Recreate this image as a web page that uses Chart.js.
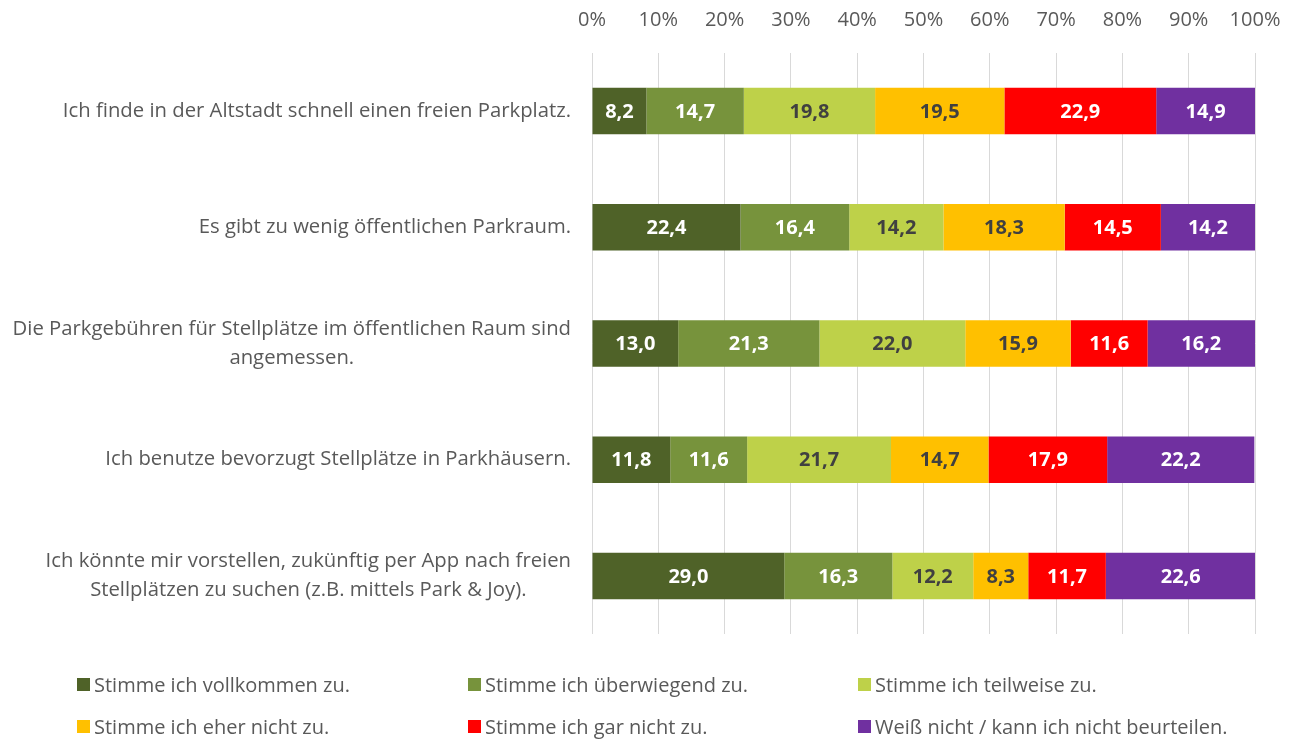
<!DOCTYPE html>
<html>
<head>
<meta charset="utf-8">
<script src="https://cdn.jsdelivr.net/npm/chart.js@4"></script>
<style>
  body { margin: 0; background: #fff; }
  #wrap { position: relative; width: 1292px; height: 740px; }
  #legend { position: absolute; left: 0; top: 673px; width: 1292px; font-family: "Open Sans", sans-serif; font-size: 20px; color: #595959; }
  .item { position: absolute; white-space: nowrap; line-height: 24px; }
  .item span { display: inline-block; width: 13px; height: 13px; margin-right: 4px; vertical-align: 1px; }
</style>
</head>
<body>
<div id="wrap">
  <canvas id="myChart" width="1292" height="740"></canvas>
  <div id="legend"></div>
</div>
<script>
var statements = [
  ["Ich finde in der Altstadt schnell einen freien Parkplatz."],
  ["Es gibt zu wenig öffentlichen Parkraum."],
  ["Die Parkgebühren für Stellplätze im öffentlichen Raum sind", "angemessen."],
  ["Ich benutze bevorzugt Stellplätze in Parkhäusern."],
  ["Ich könnte mir vorstellen, zukünftig per App nach freien", "Stellplätzen zu suchen (z.B. mittels Park & Joy)."]
];
var answers = [
  "Stimme ich vollkommen zu.",
  "Stimme ich überwiegend zu.",
  "Stimme ich teilweise zu.",
  "Stimme ich eher nicht zu.",
  "Stimme ich gar nicht zu.",
  "Weiß nicht / kann ich nicht beurteilen."
];
var vollkommen  = [8.2, 22.4, 13.0, 11.8, 29.0];
var ueberwiegend = [14.7, 16.4, 21.3, 11.6, 16.3];
var teilweise   = [19.8, 14.2, 22.0, 21.7, 12.2];
var eherNicht   = [19.5, 18.3, 15.9, 14.7, 8.3];
var garNicht    = [22.9, 14.5, 11.6, 17.9, 11.7];
var weissNicht  = [14.9, 14.2, 16.2, 22.2, 22.6];
var xTicks = [0, 10, 20, 30, 40, 50, 60, 70, 80, 90, 100];

var colours = ["#4f6228", "#77933c", "#bed149", "#ffc000", "#ff0000", "#7030a0"];
var labelColours = ["#fff", "#fff", "#404040", "#404040", "#fff", "#fff"];
var series = [vollkommen, ueberwiegend, teilweise, eherNicht, garNicht, weissNicht];
var FONT = '"Open Sans", sans-serif';

// value labels inside the bars
var barLabels = {
  id: 'barLabels',
  afterDatasetsDraw(chart) {
    var ctx = chart.ctx;
    ctx.save();
    ctx.font = 'bold 20px ' + FONT;
    ctx.textAlign = 'center';
    ctx.textBaseline = 'middle';
    chart.data.datasets.forEach((ds, i) => {
      chart.getDatasetMeta(i).data.forEach((bar, j) => {
        ctx.fillStyle = labelColours[i];
        ctx.fillText(ds.data[j].toFixed(1).replace('.', ','), (bar.x + bar.base) / 2, bar.y + 1);
      });
    });
    ctx.restore();
  }
};

// category labels: block right aligned, lines centred inside the block (Excel style)
var catLabels = {
  id: 'catLabels',
  afterDraw(chart) {
    var ctx = chart.ctx, y = chart.scales.y;
    ctx.save();
    ctx.font = '20.3px ' + FONT;
    ctx.fillStyle = '#595959';
    ctx.textAlign = 'center';
    ctx.textBaseline = 'middle';
    var right = chart.chartArea.left - 21, lh = 29;
    chart.data.labels.forEach((lines, i) => {
      var w = Math.max(...lines.map(l => ctx.measureText(l).width));
      var cy = y.getPixelForTick(i) - (lines.length - 1) * lh / 2;
      lines.forEach((l, k) => ctx.fillText(l, right - w / 2, cy + k * lh));
    });
    ctx.restore();
  }
};

var chart = new Chart("myChart", {
  type: "bar",
  data: {
    labels: statements,
    datasets: answers.map((a, i) => ({
      label: a,
      data: series[i],
      backgroundColor: colours[i],
      barPercentage: 0.4,
      categoryPercentage: 1
    }))
  },
  options: {
    indexAxis: 'y',
    responsive: false,
    animation: false,
    layout: {padding: {left: 0, right: 37, top: 0, bottom: 106}},
    scales: {
      x: {
        stacked: true,
        position: 'top',
        min: 0,
        max: 100,
        afterFit: s => { s.height = 53; s.paddingLeft = 0; s.paddingRight = 0; },
        afterBuildTicks: s => { s.ticks = xTicks.map(v => ({value: v})); },
        ticks: {
          callback: v => v + '%',
          color: '#595959',
          font: {family: FONT, size: 20},
          padding: 21
        },
        grid: {color: '#d9d9d9', drawTicks: false},
        border: {display: false}
      },
      y: {
        stacked: true,
        afterFit: s => { s.width = 592; },
        ticks: {display: false},
        grid: {display: false},
        border: {display: false}
      }
    },
    plugins: {
      legend: {display: false},
      tooltip: {enabled: false}
    }
  },
  plugins: [barLabels, catLabels]
});

// legend in three columns below the chart
var legendPos = [[77, 0], [468, 0], [858, 0], [77, 42], [468, 42], [858, 42]];
var legend = document.getElementById('legend');
chart.data.datasets.forEach((ds, i) => {
  var d = document.createElement('div');
  d.className = 'item';
  d.style.left = legendPos[i][0] + 'px';
  d.style.top = legendPos[i][1] + 'px';
  d.innerHTML = '<span style="background:' + ds.backgroundColor + '"></span>';
  d.appendChild(document.createTextNode(ds.label));
  legend.appendChild(d);
});
</script>
</body>
</html>
